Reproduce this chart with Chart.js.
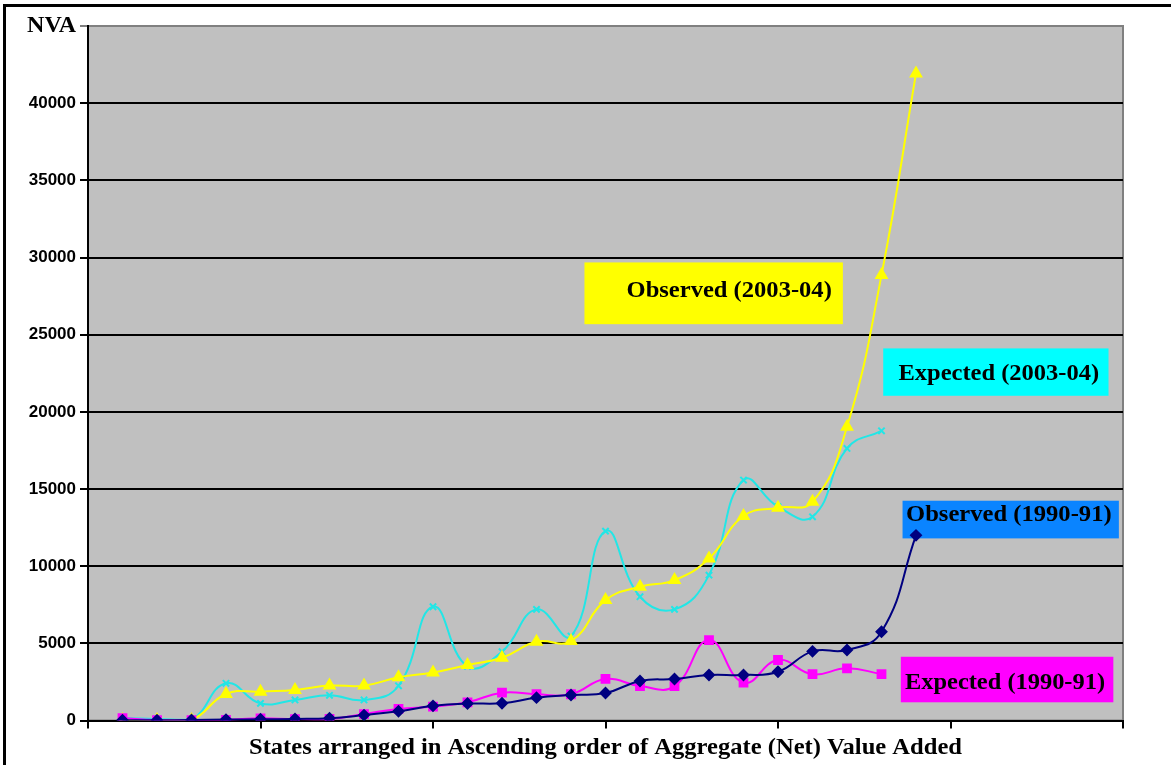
<!DOCTYPE html>
<html><head><meta charset="utf-8">
<script src="https://cdn.jsdelivr.net/npm/chart.js@4.4.1/dist/chart.umd.min.js"></script>
<style>
html,body{margin:0;padding:0;background:#fff;}
#wrap{position:relative;width:1171px;height:765px;overflow:hidden;}
canvas{position:absolute;left:0;top:0;}
.fl{position:absolute;left:3px;top:4px;width:3px;height:761px;background:#000;}
.ft{position:absolute;left:3px;top:4px;width:1168px;height:3px;background:#000;}
</style></head>
<body><div id="wrap"><canvas id="c" width="1171" height="765"></canvas><div class="fl"></div><div class="ft"></div></div>
<script>
// States ranked 1..24 in ascending order of aggregate NVA
const states = [1,2,3,4,5,6,7,8,9,10,11,12,13,14,15,16,17,18,19,20,21,22,23,24];
const observed1990 = [20,20,30,60,80,100,150,350,600,950,1100,1120,1480,1650,1780,2560,2690,2950,2950,3160,4480,4570,5750,12000];
const expected1990 = [150,30,20,40,140,90,100,420,750,900,1180,1800,1700,1700,2690,2230,2230,5210,2450,3920,3000,3380,3010];
const observed2003 = [30,30,40,1720,1870,1980,2260,2260,2800,3110,3600,4070,5100,5150,7800,8670,9100,10500,13250,13790,14170,19030,28860,41920];
const expected2003 = [150,100,60,2410,1110,1330,1630,1330,2250,7370,3500,4460,7200,5470,12270,8020,7200,9420,15580,13850,13200,17630,18770];
const yTicks = [0,5000,10000,15000,20000,25000,30000,35000,40000,45000];
const xTitle = 'States arranged in Ascending order of Aggregate (Net) Value Added';
const yTitle = 'NVA';

const labels = [
  {text:'Observed (2003-04)', bg:'#FFFF00', box:[14.39,21.88,29680,25680], tx:[15.61,21.56], ty:27880},
  {text:'Expected (2003-04)', bg:'#00FFFF', box:[23.05,29.58,24110,21040], tx:[23.49,29.31], ty:22540},
  {text:'Observed (1990-91)', bg:'#0A84FF', box:[23.61,29.88,14240,11800], tx:[23.71,29.67], ty:13375},
  {text:'Expected (1990-91)', bg:'#FF00FF', box:[23.56,29.72,4130,1180], tx:[23.68,29.48], ty:2526}
];

const toPts = arr => arr.map((v,i)=>({x: states[i], y: v}));

const bgPlugin = {
  id:'bg',
  beforeDraw(chart){
    const {ctx, chartArea:a} = chart;
    ctx.save();
    ctx.fillStyle='#fff'; ctx.fillRect(0,0,chart.width,chart.height);
    ctx.fillStyle='#C0C0C0'; ctx.fillRect(a.left,a.top,a.right-a.left,a.bottom-a.top);
    ctx.strokeStyle='#808080'; ctx.lineWidth=2;
    ctx.strokeRect(a.left,a.top,a.right-a.left,a.bottom-a.top);
    ctx.restore();
  },
  beforeDatasetsDraw(chart){
    const {ctx} = chart;
    const xs = chart.scales.x, ys = chart.scales.y;
    ctx.save();
    labels.forEach(l=>{
      const x1=xs.getPixelForValue(l.box[0]), x2=xs.getPixelForValue(l.box[1]);
      const y1=ys.getPixelForValue(l.box[2]), y2=ys.getPixelForValue(l.box[3]);
      ctx.fillStyle=l.bg; ctx.fillRect(x1,y1,x2-x1,y2-y1);
    });
    ctx.restore();
  },
  afterDatasetsDraw(chart){
    const {ctx, chartArea:a} = chart;
    const xs = chart.scales.x, ys = chart.scales.y;
    ctx.save();
    ctx.font = 'bold 24px "Liberation Serif"';
    ctx.textBaseline='middle';
    labels.forEach(l=>{
      const t1=xs.getPixelForValue(l.tx[0]), t2=xs.getPixelForValue(l.tx[1]);
      const w=ctx.measureText(l.text).width;
      ctx.save();
      ctx.translate(t1, ys.getPixelForValue(l.ty)+1);
      ctx.scale((t2-t1)/w,1);
      ctx.fillStyle='#000'; ctx.fillText(l.text,0,0);
      ctx.restore();
    });
    // x axis title
    const w=ctx.measureText(xTitle).width;
    ctx.save();
    ctx.translate((a.left+a.right)/2, a.bottom+27);
    ctx.scale(713/w,1);
    ctx.textAlign='center';
    ctx.fillStyle='#000'; ctx.fillText(xTitle,0,0);
    ctx.restore();
    ctx.restore();
  }
};

new Chart(document.getElementById('c'), {
  type:'line',
  data:{
    datasets:[
      {label:'Observed (1990-91)', data:toPts(observed1990), borderColor:'#000080', backgroundColor:'#000080', borderWidth:2, pointStyle:'rectRot', pointRadius:5, tension:0.45},
      {label:'Expected (1990-91)', data:toPts(expected1990), borderColor:'#FF00FF', backgroundColor:'#FF00FF', borderWidth:2, pointStyle:'rect', pointRadius:5.5, tension:0.45},
      {label:'Observed (2003-04)', data:toPts(observed2003), borderColor:'#FFFF00', backgroundColor:'#FFFF00', borderWidth:2, pointStyle:'triangle', pointRadius:6, tension:0.45},
      {label:'Expected (2003-04)', data:toPts(expected2003), borderColor:'#22E6E6', backgroundColor:'#22E6E6', borderWidth:2, pointStyle:'crossRot', pointRadius:4.5, pointBorderWidth:2, tension:0.45}
    ]
  },
  options:{
    responsive:false, animation:false, events:[],
    layout:{padding:{left:0, top:26, right:48, bottom:36.5}},
    plugins:{legend:{display:false}, tooltip:{enabled:false}, title:{display:false}},
    scales:{
      x:{type:'linear', min:0, max:30,
        ticks:{display:false, stepSize:5},
        grid:{drawOnChartArea:false, drawTicks:true, tickLength:8, color:'#000', lineWidth:2},
        border:{display:true, color:'#000', width:2},
        afterFit(s){ s.height = 8; }
      },
      y:{type:'linear', min:0, max:45000,
        afterBuildTicks(s){ s.ticks = yTicks.map(v=>({value:v})); },
        ticks:{
          padding:4, color:'#000',
          callback:v=> v===45000 ? yTitle : String(v),
          font:c=> (c.tick && c.tick.value===45000) ? {family:'Liberation Serif', size:24, weight:'bold'} : {family:'Liberation Sans', size:17, weight:'bold'}
        },
        grid:{color:c=> (c.tick && c.tick.value===45000) ? '#808080' : '#000', lineWidth:2, tickLength:8, drawTicks:true},
        border:{display:true, color:'#000', width:2},
        afterFit(s){ s.width = 88; }
      }
    }
  },
  plugins:[bgPlugin]
});
</script>
</body></html>
